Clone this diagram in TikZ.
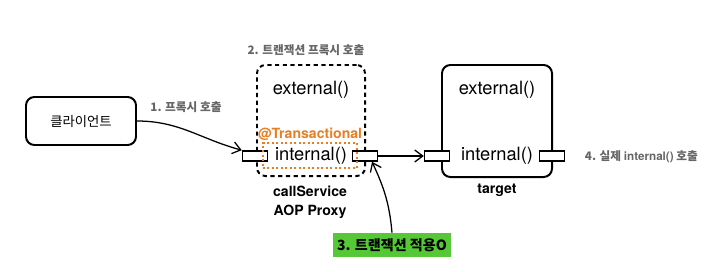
\documentclass[tikz,border=0pt]{standalone}
\usepackage{fontspec}
\setmainfont{TeX Gyre Heros}
\newfontfamily\kr{Noto Sans CJK KR}
\usepackage{tikz}
\usetikzlibrary{positioning, arrows.meta}
\definecolor{txorange}{RGB}{232,126,36}
\definecolor{applygreen}{RGB}{86,200,56}
\definecolor{labelgray}{RGB}{102,102,102}
\tikzset{
	objbox/.style={draw, line width=1.4pt, rounded corners=6pt, inner sep=0pt}
}
\tikzset{
	proxybox/.style={objbox, dash pattern=on 3pt off 2.5pt}
}
\tikzset{
	port/.style={draw, line width=1.2pt, fill=white, minimum width=0.62cm, minimum height=0.25cm, inner sep=0pt}
}
\tikzset{
	methodtext/.style={font=\fontsize{13}{15}\selectfont},
	captiontext/.style={font=\bfseries\fontsize{10}{13.5}\selectfont, align=center},
	graylabel/.style={font=\kr\bfseries\fontsize{8.3}{10}\selectfont, text=labelgray}
}
\newcommand{\krt}[1]{{\kr #1}}

\begin{document}
\begin{tikzpicture}[x=0.025cm, y=-0.025cm, call/.style={-{Straight Barb[length=2mm,width=3mm]}, line width=0.9pt}]
      \useasboundingbox (0,0) rectangle (724,271);
      % client, proxy and target objects
      \node[objbox, minimum width=2.75cm, minimum height=1.2cm, font=\kr\fontsize{9.5}{11}\selectfont] (client) at (81,121) {클라이언트};
      \node[proxybox, minimum width=2.7cm, minimum height=2.775cm] (proxy) at (311,120.5) {};
      \node[objbox, minimum width=2.75cm, minimum height=2.8cm] (target) at (497,121) {};
      \node[methodtext] (proxyext) at (311,90) {external()};
      \node[methodtext] (proxyint) at (311,156) {internal()};
      \node[methodtext] (targetext) at (497,90) {external()};
      \node[methodtext] (targetint) at (497,156) {internal()};
      % ports on both sides of internal()
      \node[port] (proxyin) at (255,156) {};
      \node[port] (proxyout) at (365,156) {};
      \node[port] (targetin) at (437,156) {};
      \node[port] (targetout) at (552,156) {};
      % transactional part of the proxy
      \node[draw=txorange, line width=1.2pt, dotted, minimum width=2.35cm, minimum height=0.625cm, inner sep=0pt] (txbox) at (310,155.5) {};
      \node[font=\bfseries\fontsize{10}{12}\selectfont, text=txorange] (txlabel) at (310,134) {@Transactional};
      \node[captiontext] (proxyname) at (310,202.5) {callService\\AOP Proxy};
      \node[captiontext] (targetname) at (497,190) {target};
      \node[fill=applygreen, minimum width=2.95cm, minimum height=0.6cm, inner sep=0pt, font=\kr\bfseries\fontsize{10}{12}\selectfont] (apply) at (392,245) {3. 트랜잭션 적용O};
      % gray step labels
      \node[graylabel] (step1) at (186,107) {1. 프록시 호출};
      \node[graylabel] (step2) at (306,50) {2. 트랜잭션 프록시 호출};
      \node[graylabel, anchor=west] (step4) at (580,157) {4. 실제 {\fontspec{TeX Gyre Heros}\bfseries internal()} 호출};
      % calls
      \draw[call] (client.east) to[out=0, in=165] (proxyin.north west);
      \draw[call] (proxyout.east) -- (targetin.west);
      \draw[call] (apply.north) to[out=95, in=-65] ([xshift=5pt]proxyout.south);
    \end{tikzpicture}
\end{document}
